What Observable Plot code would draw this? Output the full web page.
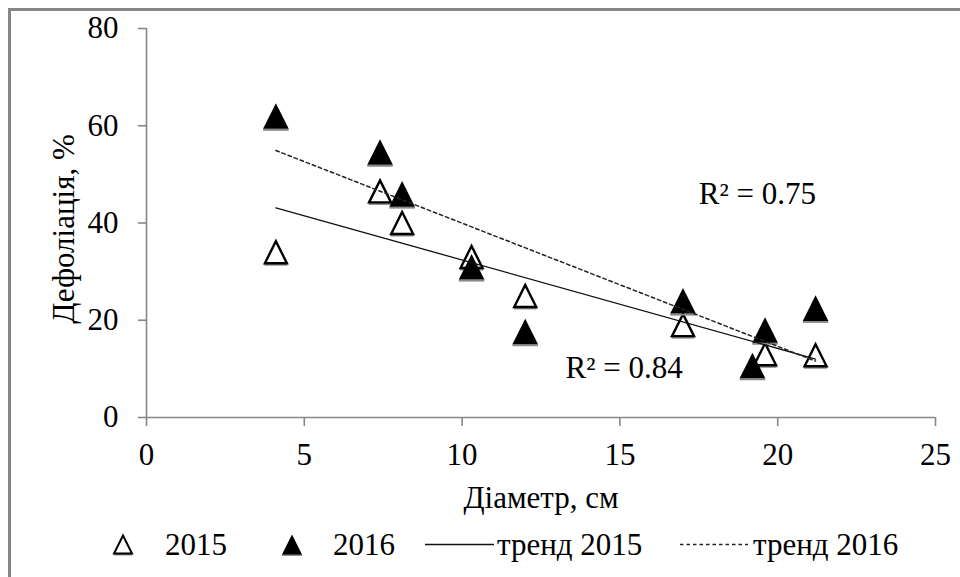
<!DOCTYPE html>
<html>
<head>
<meta charset="utf-8">
<script src="https://cdn.jsdelivr.net/npm/d3@7"></script>
<script src="https://cdn.jsdelivr.net/npm/@observablehq/plot@0.6"></script>
<style>
html, body { margin: 0; padding: 0; background: #fff; }
#wrap { position: relative; width: 960px; height: 577px; overflow: hidden; font-family: "Liberation Serif", "Tinos", "Times New Roman", "DejaVu Serif", serif; color: #000; }
#cut { position: absolute; left: 6px; top: -34px; font-size: 31px; line-height: 31px; white-space: pre; }
#frame { position: absolute; left: 8px; top: 8px; width: 980px; height: 600px; border-top: 3px solid #878787; border-left: 3px solid #878787; }
#chart { position: absolute; left: 0; top: 0; }
#legend { position: absolute; left: 0; top: 520px; }
#chart svg text, #legend svg text { font-family: "Liberation Serif", "Tinos", "Times New Roman", "DejaVu Serif", serif; }
</style>
</head>
<body>
<div id="wrap">
  <div id="cut">ле (рис. 3).</div>
  <div id="frame"></div>
  <div id="chart"></div>
  <div id="legend"></div>
</div>
<script>
// ---- data ----
const diam2015 = [4.1, 7.4, 8.1, 10.3, 12, 17, 19.6, 21.2];
const defol2015 = [34, 46.5, 40, 33, 25, 19, 13, 12.8];
const diam2016 = [4.1, 7.4, 8.1, 10.3, 12, 17, 19.2, 19.6, 21.2];
const defol2016 = [62, 54.6, 46, 31, 17.7, 24, 10.7, 18, 22.5];
const xTicks = [0, 5, 10, 15, 20, 25];
const yTicks = [0, 20, 40, 60, 80];
const seriesNames = ["2015", "2016"];
const trendNames = ["тренд 2015", "тренд 2016"];
const r2Labels = ["R² = 0.84", "R² = 0.75"];
const xLabel = "Діаметр, см";
const yLabel = "Дефоліація, %";

const data2015 = diam2015.map((x, i) => ({x, y: defol2015[i]}));
const data2016 = diam2016.map((x, i) => ({x, y: defol2016[i]}));

const FONT = "'Liberation Serif', 'Tinos', 'Times New Roman', 'DejaVu Serif', serif";
const FS = 31;
const AXIS = "#888";

// isosceles triangle symbol centred on its bounding box (Excel-style marker)
const tri = {
  draw(ctx, size) {
    const r = Math.sqrt(size / Math.PI);
    ctx.moveTo(0, -r);
    ctx.lineTo(r, r);
    ctx.lineTo(-r, r);
    ctx.closePath();
  }
};
// grey base edge seen under each marker in the reference
const triBase = {
  draw(ctx, size) {
    const r = Math.sqrt(size / Math.PI);
    ctx.moveTo(-r, r + 1);
    ctx.lineTo(r, r + 1);
  }
};

const H = 520;
const plot = Plot.plot({
  width: 960,
  height: H,
  marginLeft: 146,
  marginRight: 25,
  marginTop: 28,
  marginBottom: H - 417,
  style: {fontFamily: FONT, fontSize: FS + "px", background: "transparent", overflow: "visible"},
  x: {domain: [0, 25]},
  y: {domain: [0, 80]},
  marks: [
    Plot.ruleY([0], {stroke: AXIS, strokeWidth: 1.6}),
    Plot.ruleX([0], {stroke: AXIS, strokeWidth: 1.6}),
    Plot.axisX(xTicks, {tickSize: 9, tickPadding: 16, stroke: AXIS, strokeWidth: 1.6, fill: "black", fontSize: FS, label: null}),
    Plot.axisY(yTicks, {tickSize: 8, tickPadding: 20, stroke: AXIS, strokeWidth: 1.6, fill: "black", fontSize: FS, label: null}),
    Plot.text([xLabel], {text: d => d, frameAnchor: "bottom", textAnchor: "middle", dy: 90, lineAnchor: "bottom", fontSize: FS, fill: "black"}),
    Plot.text([yLabel], {text: d => d, frameAnchor: "left", textAnchor: "middle", rotate: -90, dx: -73, dy: 6, lineAnchor: "bottom", fontSize: FS, fill: "black"}),
    Plot.dot(data2015, {x: "x", y: "y", symbol: triBase, r: 11.5, fill: "none", stroke: "#8a8a8a", strokeWidth: 2}),
    Plot.dot(data2015, {x: "x", y: "y", symbol: tri, r: 11, fill: "white", stroke: "black", strokeWidth: 2.4, strokeLinejoin: "miter"}),
    Plot.dot(data2016, {x: "x", y: "y", symbol: triBase, r: 12.8, fill: "none", stroke: "#8a8a8a", strokeWidth: 2}),
    Plot.dot(data2016, {x: "x", y: "y", symbol: tri, r: 12.8, fill: "black", stroke: "none"}),
    Plot.linearRegressionY(data2015, {x: "x", y: "y", stroke: "#111", strokeWidth: 1.3, ci: 0}),
    Plot.linearRegressionY(data2016, {x: "x", y: "y", stroke: "#222", strokeWidth: 1.5, strokeDasharray: "3.5,3", ci: 0}),
    Plot.text([r2Labels[0]], {text: d => d, x: 13.28, y: 10.1, textAnchor: "start", lineAnchor: "middle", fontSize: FS, fill: "black"}),
    Plot.text([r2Labels[1]], {text: d => d, x: 17.5, y: 46, textAnchor: "start", lineAnchor: "middle", fontSize: FS, fill: "black"})
  ]
});
document.getElementById("chart").appendChild(plot);

// ---- legend (below the plot) ----
const NS = "http://www.w3.org/2000/svg";
const lg = document.createElementNS(NS, "svg");
lg.setAttribute("width", 960);
lg.setAttribute("height", 57);
lg.style.fontSize = FS + "px";
function el(name, attrs, text) {
  const e = document.createElementNS(NS, name);
  for (const k in attrs) e.setAttribute(k, attrs[k]);
  if (text != null) e.textContent = text;
  lg.appendChild(e);
  return e;
}
const base = 35, mid = 24.5;
el("line", {x1: 114, x2: 132, y1: mid + 10, y2: mid + 10, stroke: "#8a8a8a", "stroke-width": 2});
el("path", {d: `M123,${mid - 9} L132,${mid + 9} L114,${mid + 9} Z`, fill: "white", stroke: "black", "stroke-width": 2});
el("text", {x: 165, y: base}, seriesNames[0]);
el("line", {x1: 282, x2: 302, y1: mid + 10.5, y2: mid + 10.5, stroke: "#8a8a8a", "stroke-width": 2});
el("path", {d: `M292,${mid - 10} L302,${mid + 10} L282,${mid + 10} Z`, fill: "black"});
el("text", {x: 333, y: base}, seriesNames[1]);
el("line", {x1: 425, x2: 494, y1: mid, y2: mid, stroke: "#111", "stroke-width": 1.3});
el("text", {x: 497, y: base}, trendNames[0]);
el("line", {x1: 680, x2: 748, y1: mid, y2: mid, stroke: "#222", "stroke-width": 1.5, "stroke-dasharray": "3.5,3"});
el("text", {x: 753, y: base}, trendNames[1]);
document.getElementById("legend").appendChild(lg);
</script>
</body>
</html>
